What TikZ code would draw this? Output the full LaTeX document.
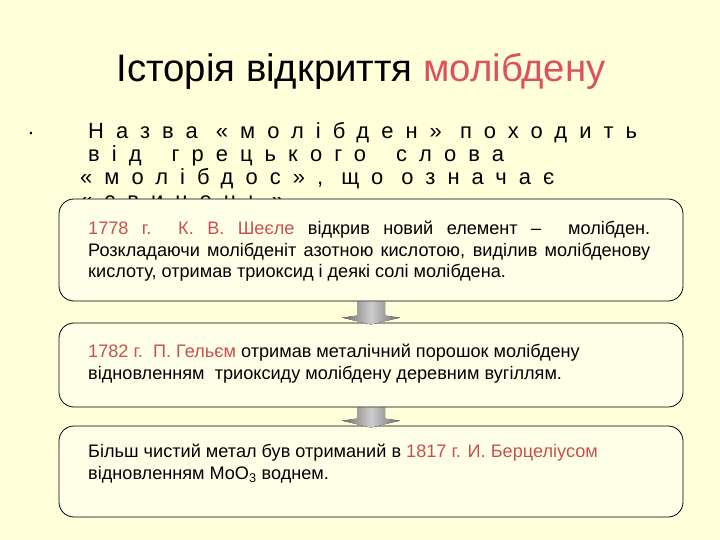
\documentclass[tikz,border=0pt]{standalone}
\usepackage{fontspec}
\setmainfont{Liberation Sans}
\newfontfamily\spacedfont[LetterSpace=55]{Liberation Sans}
\usetikzlibrary{calc}
\definecolor{paper}{RGB}{255,255,217}
\definecolor{boxfill}{RGB}{255,255,232}
\definecolor{datered}{RGB}{200,80,80}
\definecolor{titlered}{RGB}{222,80,95}

\begin{document}
\begin{tikzpicture}[x=1bp, y=-1bp,
  stage/.style = {draw, rounded corners=15bp, fill=boxfill, line width=0.8bp, minimum width=624bp, inner sep=0pt},
  txt/.style = {anchor=north west, inner sep=0pt, align=left, font=\fontsize{18.2}{21.5}\selectfont},
  blockarrow/.style = {left color=gray!85!black, right color=gray!85!black, middle color=gray!40}]
\useasboundingbox[fill=paper] (0,0) rectangle (720,540);

% title and the bullet
\node[anchor=base, font=\fontsize{38.5}{38.5}\selectfont] (title) at (361,82) {Історія відкриття \textcolor{titlered}{молібдену}};
\node[anchor=base, font=\fontsize{22}{22}\selectfont] (dot) at (31,140) {·};
\node[anchor=north west, inner sep=0pt, align=left, font=\spacedfont\fontsize{22}{23}\selectfont] (name) at (88,122)
  {Назва «молібден» походить\\ від\hspace{30bp}грецького\hspace{30bp}слова\\ \hspace*{-8bp}«молібдос», що означає\\ \hspace*{-8bp}«свинець»};

% the three stages
\node[stage, minimum height=102bp] (b1) at (371,250) {};
\node[stage, minimum height=84bp]  (b2) at (371,365) {};
\node[stage, minimum height=91bp]  (b3) at (371,471.5) {};

\node[txt] (t1) at (88,221) {\makebox[562bp][s]{\textcolor{datered}{1778 г.\ \ К. В. Шеєле} відкрив новий елемент –\ \ молібден.}\\
  \makebox[562bp][s]{Розкладаючи молібденіт азотною кислотою, виділив молібденову}\\
  кислоту, отримав триоксид і деякі солі молібдена.};
\node[txt] (t2) at (88,344) {\textcolor{datered}{1782 г.\ \ П. Гельєм} отримав металічний порошок молібдену\\
  відновленням\ \ триоксиду молібдену деревним вугіллям.};
\node[txt] (t3) at (88,444) {Більш чистий метал був отриманий в \textcolor{datered}{1817 г. И. Берцеліусом}\\
  відновленням MoO\textsubscript{3} воднем.};

% arrows between the stages
\fill[blockarrow] ($(b1.south)+(-14,0)$) -- ($(b1.south)+(14,0)$) -- ($(b2.north)+(14,-7)$) -- ($(b2.north)+(29,-5)$)
  -- ($(b2.north)+(0,2)$) -- ($(b2.north)+(-29,-5)$) -- ($(b2.north)+(-14,-7)$) -- cycle;
\fill[blockarrow] ($(b2.south)+(-14,0)$) -- ($(b2.south)+(14,0)$) -- ($(b3.north)+(14,-7)$) -- ($(b3.north)+(29,-5)$)
  -- ($(b3.north)+(0,2)$) -- ($(b3.north)+(-29,-5)$) -- ($(b3.north)+(-14,-7)$) -- cycle;
\end{tikzpicture}
\end{document}
